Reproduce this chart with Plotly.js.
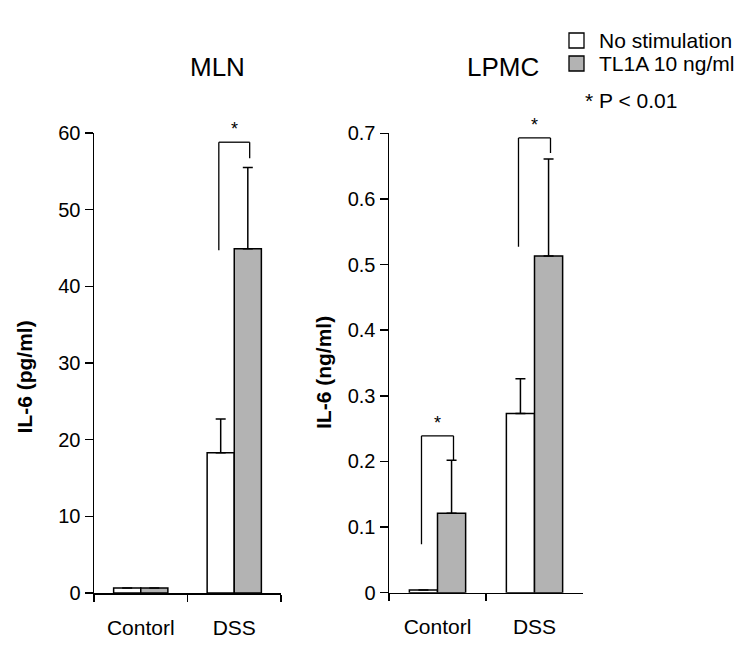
<!DOCTYPE html>
<html>
<head>
<meta charset="utf-8">
<script src="https://cdn.plot.ly/plotly-3.0.1.min.js"></script>
<style>
  html, body { margin: 0; padding: 0; background: #fff; }
  #chart { width: 750px; height: 655px; }
</style>
</head>
<body>
<div id="chart"></div>
<script>
// ---- data ----
const categories = ['Contorl', 'DSS'];
const seriesNames = ['No stimulation', 'TL1A 10 ng/ml'];
const panelTitles = ['MLN', 'LPMC'];
const yTitles = ['IL-6 (pg/ml)', 'IL-6 (ng/ml)'];

// MLN (pg/ml)
const mlnNoStim = [0.65, 18.3];
const mlnNoStimErr = [0, 4.4];
const mlnTL1A = [0.65, 44.9];
const mlnTL1AErr = [0, 10.6];

// LPMC (ng/ml)
const lpmcNoStim = [0.004, 0.273];
const lpmcNoStimErr = [0, 0.053];
const lpmcTL1A = [0.121, 0.513];
const lpmcTL1AErr = [0.081, 0.148];

const mlnTicks = [0, 10, 20, 30, 40, 50, 60];
const lpmcTicks = [0, 0.1, 0.2, 0.3, 0.4, 0.5, 0.6, 0.7];
const lpmcTickText = ['0', '0.1', '0.2', '0.3', '0.4', '0.5', '0.6', '0.7'];

const pNote = '* P < 0.01';

// significance brackets: [panel, category index, left-leg bottom, top, right-leg bottom]
const brackets = [
  [0, 1, 44.7, 58.8, 56.7],
  [1, 0, 0.074, 0.239, 0.202],
  [1, 1, 0.527, 0.693, 0.670]
];

// ---- style ----
const colors = ['#ffffff', '#b3b3b3'];
const FONT = 'Liberation Sans, Arial, sans-serif';
const W = 750, H = 655;

function bar(name, y, err, color, xa, ya) {
  return {
    type: 'bar', name: name, x: categories, y: y,
    xaxis: xa, yaxis: ya, showlegend: false,
    marker: { color: color, line: { color: '#000', width: 1.5 } },
    error_y: { type: 'data', symmetric: false, array: err, arrayminus: err.map(() => 0),
               color: '#000', thickness: 1.5, width: 5 }
  };
}

const data = [
  bar(seriesNames[0], mlnNoStim, mlnNoStimErr, colors[0], 'x', 'y'),
  bar(seriesNames[1], mlnTL1A, mlnTL1AErr, colors[1], 'x', 'y'),
  bar(seriesNames[0], lpmcNoStim, lpmcNoStimErr, colors[0], 'x2', 'y2'),
  bar(seriesNames[1], lpmcTL1A, lpmcTL1AErr, colors[1], 'x2', 'y2')
];

const px = v => v / W;
const py = v => 1 - v / H;

function axisCommon() {
  return {
    showline: true, linecolor: '#000', linewidth: 1.5,
    ticks: 'outside', tickcolor: '#000', tickwidth: 1.5,
    showgrid: false, zeroline: false
  };
}

function xAxis(domain, anchor) {
  return Object.assign(axisCommon(), {
    domain: domain, anchor: anchor, type: 'category', tickson: 'boundaries', ticklen: 7,
    range: [-0.5, 1.5], ticklabelstandoff: 15,
    tickfont: { family: FONT, size: 21, color: '#000' }
  });
}
function yAxis(domain, anchor, range, vals, text) {
  return Object.assign(axisCommon(), {
    domain: domain, anchor: anchor, range: range, ticklen: 8,
    tickvals: vals, ticktext: text,
    tickfont: { family: FONT, size: 20, color: '#000' }
  });
}

const layoutAxes = {
  xaxis: xAxis([px(94), px(281)], 'y'),
  xaxis2: xAxis([px(389), px(583)], 'y2'),
  yaxis: yAxis([py(593), py(133)], 'x', [0, 60], mlnTicks, mlnTicks.map(String)),
  yaxis2: yAxis([py(592.7), py(133.3)], 'x2', [0, 0.7], lpmcTicks, lpmcTickText)
};

const shapes = [];
const annotations = [];
const legOff = 0.165;
brackets.forEach(b => {
  const xr = b[0] === 0 ? 'x' : 'x2';
  const yr = b[0] === 0 ? 'y' : 'y2';
  const xl = b[1] - legOff, xrr = b[1] + legOff;
  const line = { color: '#000', width: 1.3 };
  shapes.push({ type: 'line', xref: xr, yref: yr, x0: xl, x1: xl, y0: b[2], y1: b[3], line: line });
  shapes.push({ type: 'line', xref: xr, yref: yr, x0: xl, x1: xrr, y0: b[3], y1: b[3], line: line });
  shapes.push({ type: 'line', xref: xr, yref: yr, x0: xrr, x1: xrr, y0: b[3], y1: b[4], line: line });
  annotations.push({ xref: xr, yref: yr, x: b[1], y: b[3], text: '*', showarrow: false,
    yanchor: 'bottom', yshift: 1, font: { family: FONT, size: 18, color: '#000' } });
});

// panel titles
[[217.5, panelTitles[0]], [503, panelTitles[1]]].forEach(t => {
  annotations.push({ xref: 'paper', yref: 'paper', x: px(t[0]), y: py(67), text: t[1],
    showarrow: false, xanchor: 'center', yanchor: 'middle',
    font: { family: FONT, size: 26, color: '#000' } });
});

// y axis titles
[[23.5, 377, yTitles[0]], [323, 373, yTitles[1]]].forEach(t => {
  annotations.push({ xref: 'paper', yref: 'paper', x: px(t[0]), y: py(t[1]), text: '<b>' + t[2] + '</b>',
    textangle: -90, showarrow: false, xanchor: 'center', yanchor: 'middle',
    font: { family: FONT, size: 21, color: '#000' } });
});

// legend (manual)
const legRows = [[33, 48], [56, 71]];
seriesNames.forEach((n, i) => {
  shapes.push({ type: 'rect', xref: 'paper', yref: 'paper',
    x0: px(569), x1: px(584), y0: py(legRows[i][1]), y1: py(legRows[i][0]),
    fillcolor: colors[i], line: { color: '#000', width: 1.3 } });
  annotations.push({ xref: 'paper', yref: 'paper', x: px(597), y: py((legRows[i][0] + legRows[i][1]) / 2),
    text: n, showarrow: false, xanchor: 'left', yanchor: 'middle',
    font: { family: FONT, size: 21, color: '#000' } });
});
annotations.push({ xref: 'paper', yref: 'paper', x: px(583), y: py(100), text: pNote,
  showarrow: false, xanchor: 'left', yanchor: 'middle', font: { family: FONT, size: 21, color: '#000' } });

const layout = Object.assign({
  width: W, height: H,
  margin: { l: 0, r: 0, t: 0, b: 0 },
  paper_bgcolor: '#fff', plot_bgcolor: '#fff',
  barmode: 'group', bargap: 0.42, bargroupgap: 0,
  showlegend: false,
  font: { family: FONT, color: '#000' },
  shapes: shapes, annotations: annotations
}, layoutAxes);

Plotly.newPlot('chart', data, layout, { staticPlot: true, displayModeBar: false });
</script>
</body>
</html>
